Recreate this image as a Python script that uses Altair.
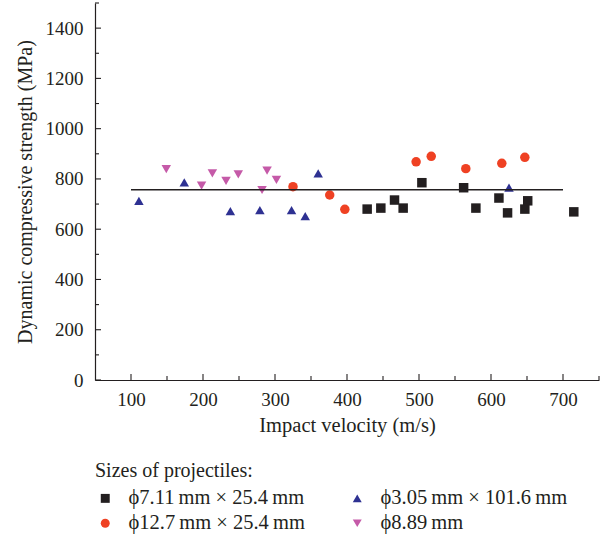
import altair as alt
import pandas as pd

# ---- data ----
series_names = ["ϕ7.11\u2009mm × 25.4\u2009mm", "ϕ12.7\u2009mm × 25.4\u2009mm",
                "ϕ3.05\u2009mm × 101.6\u2009mm", "ϕ8.89\u2009mm"]
series_shapes = ["square", "circle", "triangle-up", "triangle-down"]
series_colors = ["#231f20", "#ef4123", "#2e3192", "#c55aa8"]

sq_v = [428, 447, 466, 478, 504, 562, 579, 611, 623, 647, 651, 715]
sq_s = [680, 684, 716, 684, 785, 765, 684, 724, 665, 680, 713, 669]

ci_v = [325, 376, 397, 496, 517, 565, 615, 647]
ci_s = [769, 736, 679, 868, 890, 841, 862, 886]

tu_v = [111, 174, 238, 279, 323, 342, 360, 625]
tu_s = [713, 786, 672, 676, 676, 652, 822, 765]

td_v = [149, 198, 213, 232, 249, 282, 289, 302]
td_s = [839, 773, 822, 792, 818, 756, 833, 796]

fit_v = [100, 700]
fit_s = [757, 757]

x_major = [100, 200, 300, 400, 500, 600, 700]
x_minor = [150, 250, 350, 450, 550, 650, 750]
y_major = [0, 200, 400, 600, 800, 1000, 1200, 1400]
y_minor = [100, 300, 500, 700, 900, 1100, 1300, 1500]

rows = []
for name, vs, ss in [(series_names[0], sq_v, sq_s), (series_names[1], ci_v, ci_s),
                     (series_names[2], tu_v, tu_s), (series_names[3], td_v, td_s)]:
    for v, s in zip(vs, ss):
        rows.append({"v": v, "s": s, "series": name})
df = pd.DataFrame(rows)
fit_df = pd.DataFrame({"v": fit_v, "s": fit_s})
xmaj_df = pd.DataFrame({"v": x_major})
xmin_df = pd.DataFrame({"v": x_minor})
ymaj_df = pd.DataFrame({"s": y_major})
ymin_df = pd.DataFrame({"s": y_minor})

FONT = "Liberation Serif"
INK = "#231f20"
W, H = 504, 377
xs = alt.Scale(domain=[50, 750], nice=False, zero=False)
ys = alt.Scale(domain=[0, 1500], nice=False)

points = alt.Chart(df).mark_point(filled=True, opacity=1, size=90).encode(
    x=alt.X("v:Q", scale=xs, axis=alt.Axis(
        title="Impact velocity (m/s)", values=x_major, format="d", ticks=False, tickSize=0,
        labelPadding=10, titlePadding=6, grid=False, domainColor=INK, domainWidth=1.2,
        titleFontSize=20.5)),
    y=alt.Y("s:Q", scale=ys, axis=alt.Axis(
        title="Dynamic compressive strength (MPa)", values=y_major, format="d", ticks=False,
        tickSize=0, labelPadding=12, titlePadding=10, grid=False, domainColor=INK,
        domainWidth=1.2, titleFontSize=20)),
    color=alt.Color("series:N", scale=alt.Scale(domain=series_names, range=series_colors),
                    legend=alt.Legend(title="Sizes of projectiles:", orient="none", legendX=0,
                                      legendY=458, columns=2, columnPadding=42, rowPadding=4,
                                      symbolSize=80, labelOffset=13,
                                      titlePadding=7, symbolStrokeWidth=0)),
    shape=alt.Shape("series:N", scale=alt.Scale(domain=series_names, range=series_shapes)),
)

fit = alt.Chart(fit_df).mark_line(color=INK, strokeWidth=1.3).encode(
    x=alt.X("v:Q", scale=xs),
    y=alt.Y("s:Q", scale=ys),
)

xmaj = alt.Chart(xmaj_df).mark_rule(color=INK, strokeWidth=1.1).encode(
    x=alt.X("v:Q", scale=xs), y=alt.value(H), y2=alt.value(H - 6))
xmin = alt.Chart(xmin_df).mark_rule(color=INK, strokeWidth=1.1).encode(
    x=alt.X("v:Q", scale=xs), y=alt.value(H), y2=alt.value(H - 4))
ymaj = alt.Chart(ymaj_df).mark_rule(color=INK, strokeWidth=1.1).encode(
    y=alt.Y("s:Q", scale=ys), x=alt.value(0), x2=alt.value(6))
ymin = alt.Chart(ymin_df).mark_rule(color=INK, strokeWidth=1.1).encode(
    y=alt.Y("s:Q", scale=ys), x=alt.value(0), x2=alt.value(4))

chart = alt.layer(points, fit, xmaj, xmin, ymaj, ymin).properties(
    width=W, height=H,
    padding={"left": 95, "top": 3, "right": 7, "bottom": 157},
    autosize=alt.AutoSizeParams(type="none"),
).configure_view(stroke=None).configure_axis(
    labelFont=FONT, titleFont=FONT, labelFontSize=19,
    titleFontWeight="normal", labelColor=INK, titleColor=INK,
).configure_legend(
    titleFont=FONT, labelFont=FONT, titleFontSize=20, labelFontSize=20.5,
    titleFontWeight="normal", titleColor=INK, labelColor=INK, labelLimit=300,
)

chart.save("out.html", embed_options={"renderer": "svg", "actions": False})
